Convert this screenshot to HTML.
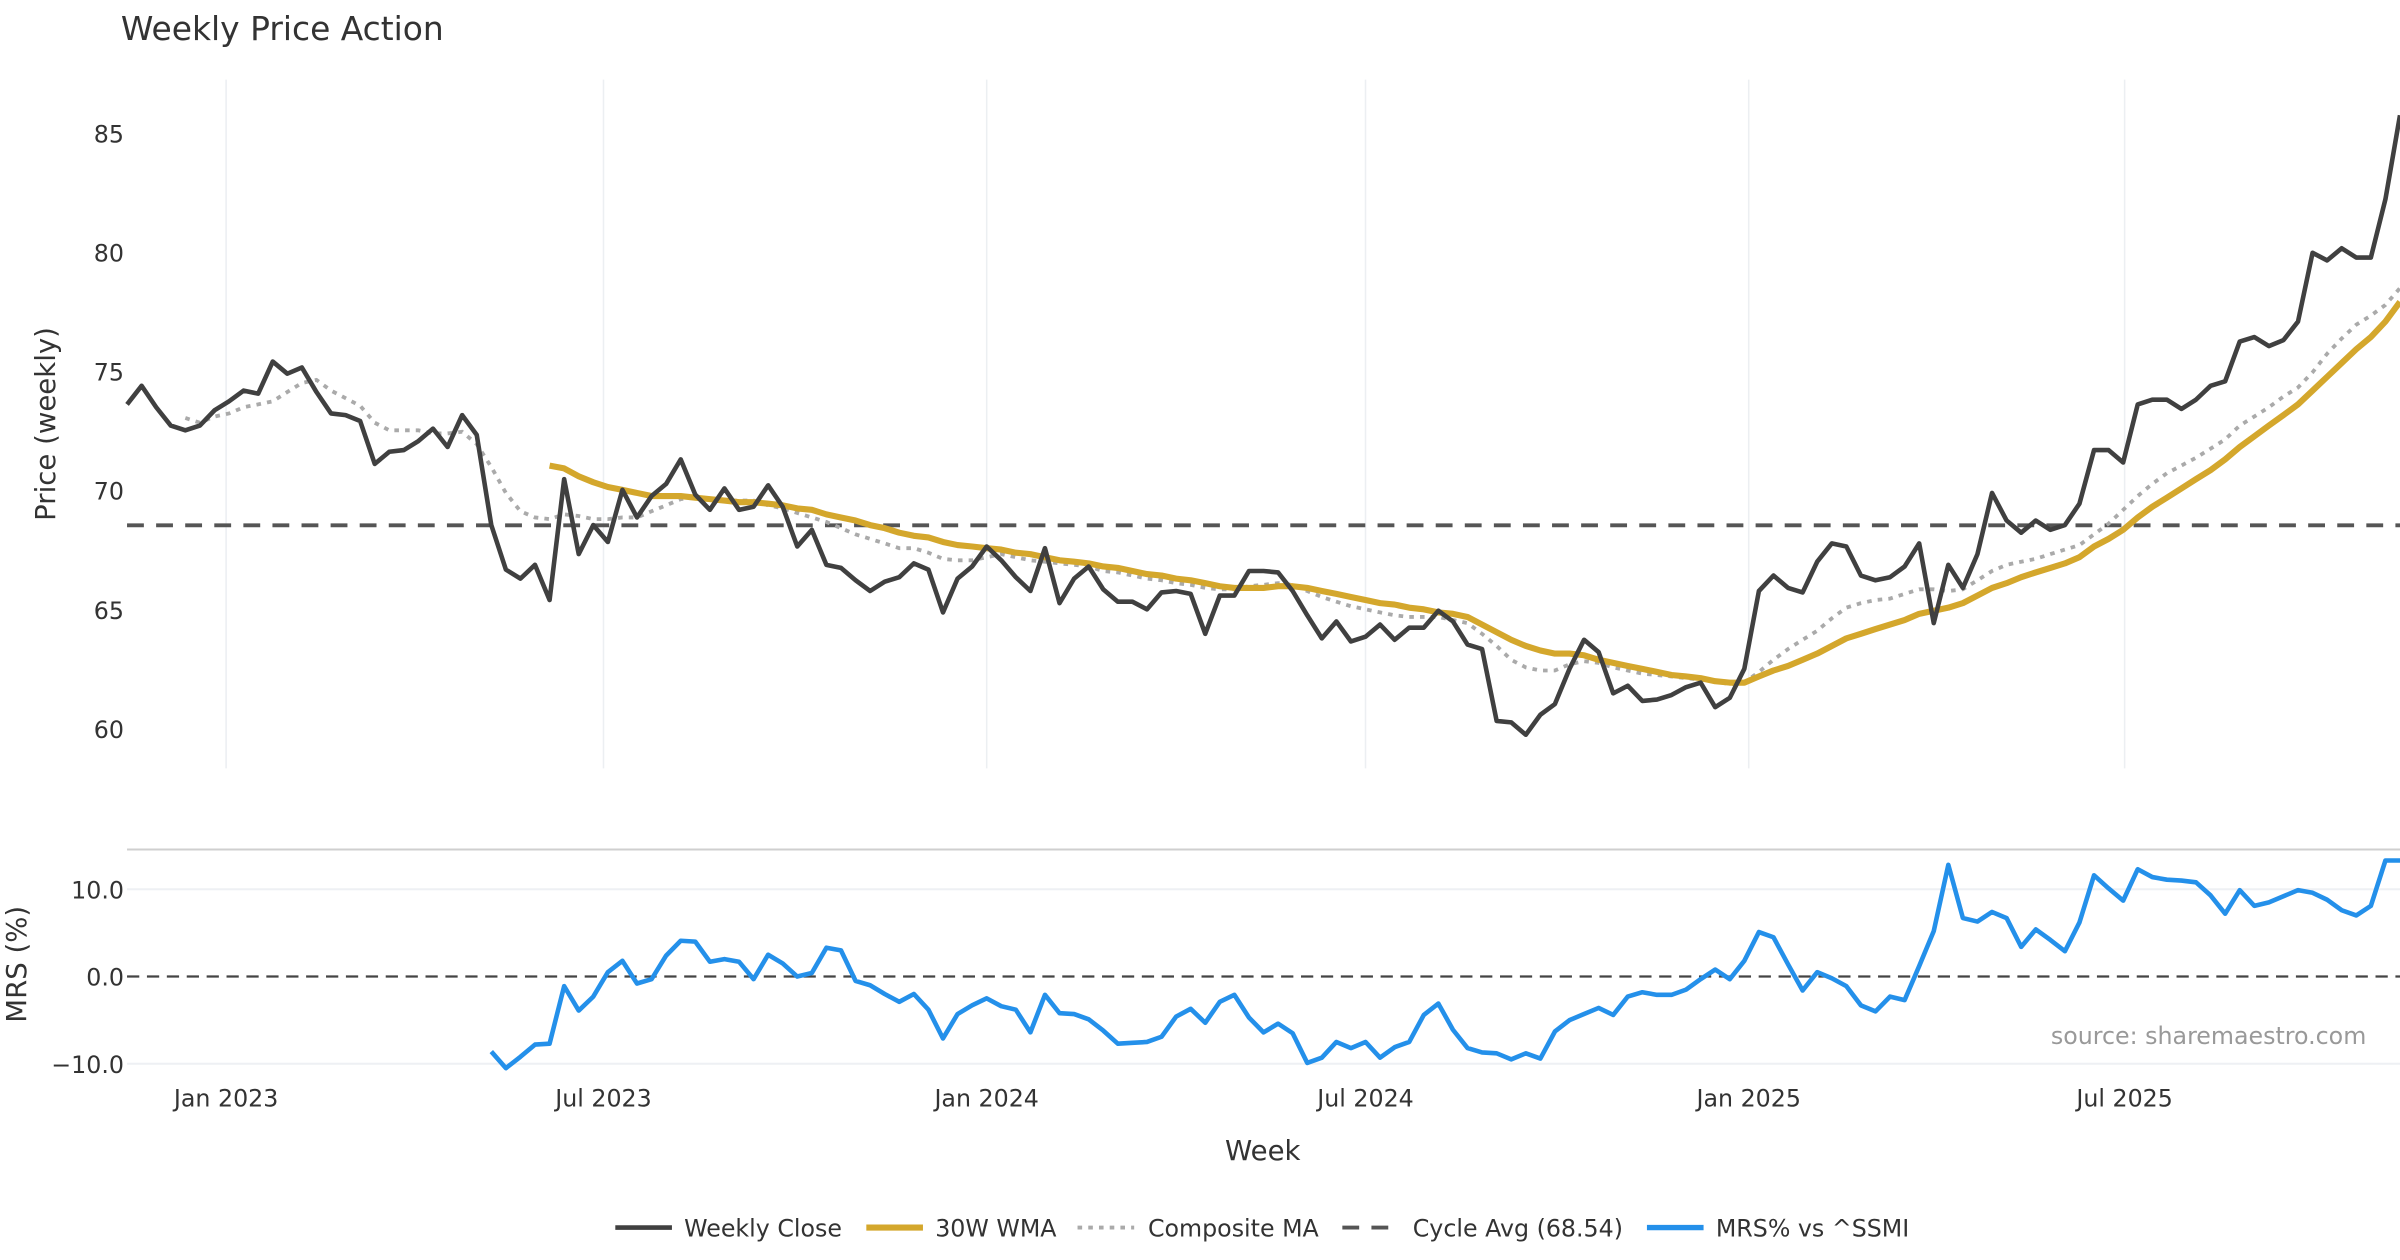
<!DOCTYPE html>
<html><head><meta charset="utf-8">
<style>
html,body{margin:0;padding:0;background:#fff;}
svg{display:block;font-family:"DejaVu Sans","Liberation Sans",sans-serif;}
</style></head>
<body>
<svg id="chart" width="2400" height="1260" viewBox="0 0 1568 823.2" xmlns="http://www.w3.org/2000/svg">
<text x="79" y="26" font-size="21.5" fill="#333">Weekly Price Action</text>
<g id="grid"></g>
<g id="axes"></g>
<g id="series"></g>
<text transform="translate(36,277) rotate(-90)" text-anchor="middle" font-size="18" fill="#333">Price (weekly)</text>
<text transform="translate(17,630) rotate(-90)" text-anchor="middle" font-size="18" fill="#333">MRS (%)</text>
<text x="825" y="758" text-anchor="middle" font-size="18" fill="#333">Week</text>
<text x="1546" y="682" text-anchor="end" font-size="15.5" fill="#999">source: sharemaestro.com</text>
<g id="legend">
 <g><line x1="402" y1="802" x2="439" y2="802" stroke="#404040" stroke-width="3"/><text x="447" y="808" font-size="15.5" fill="#333">Weekly Close</text></g>
 <g><line x1="566" y1="802" x2="603" y2="802" stroke="#D4A72C" stroke-width="4"/><text x="611" y="808" font-size="15.5" fill="#333">30W WMA</text></g>
 <g><line x1="704" y1="802" x2="741" y2="802" stroke="#aaa" stroke-width="2.5" stroke-dasharray="3 4"/><text x="750" y="808" font-size="15.5" fill="#333">Composite MA</text></g>
 <g><line x1="877" y1="802" x2="914" y2="802" stroke="#555" stroke-width="2.5" stroke-dasharray="11 8"/><text x="923" y="808" font-size="15.5" fill="#333">Cycle Avg (68.54)</text></g>
 <g><line x1="1076" y1="802" x2="1113" y2="802" stroke="#2490EA" stroke-width="3.5"/><text x="1121" y="808" font-size="15.5" fill="#333">MRS% vs ^SSMI</text></g>
</g>
</svg>
<script>
const priceTicks = [60, 65, 70, 75, 80, 85];
const mrsTicks = [-10, 0, 10];
const mrsTickLabels = ["\u221210.0", "0.0", "10.0"];
const dateTickLabels = ["Jan 2023", "Jul 2023", "Jan 2024", "Jul 2024", "Jan 2025", "Jul 2025"];
const dateTickWeeks = [6.8, 32.7, 59.0, 85.0, 111.3, 137.1];
const cycleAvg = 68.54;
const closeValues = [73.62,74.40,73.50,72.73,72.53,72.73,73.37,73.75,74.20,74.07,75.42,74.91,75.17,74.14,73.24,73.17,72.92,71.12,71.63,71.70,72.08,72.60,71.83,73.17,72.34,68.55,66.68,66.30,66.88,65.40,70.48,67.33,68.55,67.84,70.03,68.87,69.77,70.28,71.31,69.83,69.19,70.09,69.19,69.32,70.22,69.32,67.65,68.35,66.88,66.75,66.23,65.78,66.17,66.36,66.94,66.68,64.88,66.30,66.81,67.65,67.07,66.36,65.78,67.58,65.27,66.30,66.81,65.85,65.33,65.33,65.01,65.72,65.78,65.66,63.98,65.59,65.59,66.62,66.62,66.56,65.78,64.76,63.79,64.50,63.66,63.86,64.37,63.73,64.24,64.24,64.95,64.50,63.53,63.34,60.32,60.26,59.74,60.58,61.03,62.51,63.73,63.21,61.48,61.80,61.16,61.22,61.41,61.74,61.93,60.90,61.29,62.51,65.78,66.43,65.91,65.72,67.01,67.78,67.65,66.43,66.23,66.36,66.81,67.78,64.43,66.88,65.91,67.33,69.90,68.74,68.23,68.74,68.35,68.55,69.45,71.70,71.70,71.18,73.62,73.82,73.82,73.43,73.82,74.40,74.59,76.26,76.45,76.07,76.32,77.10,79.99,79.67,80.18,79.79,79.79,82.24,85.77];
const wmaValues = [71.05,70.93,70.60,70.35,70.15,70.03,69.90,69.77,69.77,69.77,69.70,69.64,69.58,69.51,69.51,69.45,69.38,69.25,69.19,69.00,68.87,68.74,68.55,68.42,68.23,68.10,68.03,67.84,67.71,67.65,67.58,67.52,67.39,67.33,67.20,67.07,67.01,66.94,66.81,66.75,66.62,66.49,66.43,66.30,66.23,66.11,65.98,65.91,65.91,65.91,65.98,65.98,65.91,65.78,65.66,65.53,65.40,65.27,65.21,65.08,65.01,64.88,64.82,64.69,64.37,64.05,63.73,63.47,63.28,63.15,63.15,63.08,62.89,62.76,62.63,62.51,62.38,62.25,62.19,62.12,61.99,61.93,61.93,62.19,62.44,62.63,62.89,63.15,63.47,63.79,63.98,64.18,64.37,64.56,64.82,64.95,65.08,65.27,65.59,65.91,66.11,66.36,66.56,66.75,66.94,67.20,67.65,67.97,68.35,68.87,69.32,69.70,70.09,70.48,70.86,71.31,71.83,72.28,72.73,73.17,73.62,74.20,74.78,75.36,75.94,76.45,77.10,77.93];
const compositeValues = [73.05,72.85,73.11,73.24,73.50,73.62,73.75,74.14,74.52,74.65,74.20,73.88,73.56,72.85,72.53,72.53,72.53,72.40,72.40,72.47,71.95,70.99,69.90,69.13,68.87,68.80,69.00,68.93,68.80,68.80,68.87,68.87,69.13,69.38,69.64,69.70,69.64,69.58,69.58,69.58,69.38,69.25,69.06,68.87,68.68,68.42,68.16,67.97,67.78,67.58,67.58,67.39,67.13,67.07,67.07,67.20,67.33,67.20,67.07,67.01,66.94,66.88,66.81,66.62,66.56,66.43,66.30,66.23,66.11,66.04,65.91,65.85,65.85,65.98,66.04,66.11,66.04,65.78,65.53,65.33,65.14,65.01,64.88,64.76,64.69,64.69,64.69,64.56,64.43,63.98,63.47,62.89,62.57,62.44,62.44,62.70,62.83,62.76,62.57,62.44,62.31,62.25,62.19,62.12,62.06,61.99,61.86,61.93,62.38,62.89,63.34,63.73,64.11,64.63,65.08,65.27,65.40,65.46,65.66,65.85,65.85,65.78,65.85,66.23,66.62,66.88,67.01,67.13,67.33,67.52,67.71,68.16,68.61,69.19,69.77,70.28,70.73,71.05,71.38,71.76,72.15,72.73,73.11,73.50,73.95,74.33,74.97,75.75,76.39,76.97,77.35,77.80,78.51];
const mrsValues = [-8.6,-10.5,-9.2,-7.8,-7.7,-1.1,-3.9,-2.3,0.5,1.8,-0.8,-0.3,2.4,4.1,4.0,1.7,2.0,1.7,-0.3,2.5,1.5,0.0,0.4,3.3,3.0,-0.5,-1.0,-2.0,-2.9,-2.0,-3.8,-7.1,-4.3,-3.3,-2.5,-3.4,-3.8,-6.4,-2.1,-4.2,-4.3,-4.9,-6.2,-7.7,-7.6,-7.5,-6.9,-4.6,-3.7,-5.3,-2.9,-2.1,-4.7,-6.4,-5.4,-6.5,-9.9,-9.3,-7.5,-8.2,-7.5,-9.3,-8.1,-7.5,-4.4,-3.1,-6.1,-8.2,-8.7,-8.8,-9.5,-8.8,-9.4,-6.3,-5.0,-4.3,-3.6,-4.4,-2.3,-1.8,-2.1,-2.1,-1.5,-0.3,0.8,-0.3,1.8,5.1,4.5,1.4,-1.6,0.5,-0.2,-1.1,-3.3,-4.0,-2.3,-2.7,1.2,5.2,12.8,6.7,6.3,7.4,6.7,3.4,5.4,4.2,2.9,6.2,11.6,10.1,8.7,12.3,11.4,11.1,11.0,10.8,9.3,7.2,9.9,8.1,8.5,9.2,9.9,9.6,8.8,7.6,7.0,8.1,13.3,13.3];

const NS = "http://www.w3.org/2000/svg";
const N = closeValues.length;
const X0 = 83, X1 = 1568;
function xAt(i){ return X0 + i * (X1 - X0) / (N - 1); }
function yPrice(p){ return 476 - (p - 60) * (398 - 87) / 25 * 1.25; }
function yMrs(m){ return 638 - m * 5.7; }
function mk(tag, attrs, parent){ const e = document.createElementNS(NS, tag); for (const k in attrs) e.setAttribute(k, attrs[k]); parent.appendChild(e); return e; }
const grid = document.getElementById('grid'), axes = document.getElementById('axes'), series = document.getElementById('series');

dateTickWeeks.forEach((w, k) => {
  const x = xAt(w);
  const gl = mk('line', {x1:x, y1:52, x2:x, y2:502, stroke:'#eceff2', 'stroke-width':1}, grid);
  
  
  const t = mk('text', {x:x, y:723, 'text-anchor':'middle', 'font-size':15.5, fill:'#333'}, axes);
  t.textContent = dateTickLabels[k];
  
  
});
priceTicks.forEach(p => {
  const t = mk('text', {x:81, y:yPrice(p) + 6, 'text-anchor':'end', 'font-size':15.5, fill:'#333'}, axes);
  t.textContent = String(p);
  
  
});
const sep = mk('line', {x1:83, y1:555, x2:1568, y2:555, stroke:'#cfcfcf', 'stroke-width':1.3}, grid);


mrsTicks.forEach((m, k) => {
  if (m !== 0) {
    const gl = mk('line', {x1:83, y1:yMrs(m), x2:1568, y2:yMrs(m), stroke:'#eef0f4', 'stroke-width':1.3}, grid);
    
    
  }
  const t = mk('text', {x:81, y:yMrs(m) + 6, 'text-anchor':'end', 'font-size':15.5, fill:'#333'}, axes);
  t.textContent = mrsTickLabels[k];
  
  
});
const zl = mk('line', {x1:83, y1:yMrs(0), x2:1568, y2:yMrs(0), stroke:'#444', 'stroke-width':1.5, 'stroke-dasharray':'8 5'}, grid);



const cyc = mk('line', {x1:83, y1:yPrice(cycleAvg), x2:1568, y2:yPrice(cycleAvg), stroke:'#555', 'stroke-width':2.5, 'stroke-dasharray':'11 8'}, series);



function pathFor(vals, yf){
  const off = N - vals.length;
  return vals.map((v, i) => (i ? 'L' : 'M') + xAt(i + off).toFixed(2) + ',' + yf(v).toFixed(2)).join(' ');
}
const comp = mk('path', {d:pathFor(compositeValues, yPrice), fill:'none', stroke:'#aaa', 'stroke-width':2.5, 'stroke-dasharray':'3 4'}, series);


const wma = mk('path', {d:pathFor(wmaValues, yPrice), fill:'none', stroke:'#D4A72C', 'stroke-width':4, 'stroke-linejoin':'round'}, series);


const cl = mk('path', {d:pathFor(closeValues, yPrice), fill:'none', stroke:'#404040', 'stroke-width':3, 'stroke-linejoin':'round'}, series);


const mrs = mk('path', {d:pathFor(mrsValues, yMrs), fill:'none', stroke:'#2490EA', 'stroke-width':3, 'stroke-linejoin':'round'}, series);


</script>
</body></html>
